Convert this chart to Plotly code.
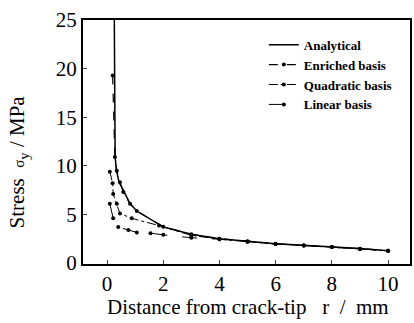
import plotly.graph_objects as go

# Data
r_analytical = [0.26, 0.27, 0.29, 0.33, 0.43, 0.58, 0.82, 1.06, 2, 3, 4, 5, 6, 7, 8, 9, 10]
s_analytical = [25.0, 19.5, 11.0, 9.6, 8.3, 7.5, 6.1, 5.35, 3.72, 2.97, 2.5, 2.25, 1.98, 1.82, 1.66, 1.5, 1.26]

r_enriched = [0.2, 0.28, 0.35, 0.46, 0.58, 0.82, 1.06, 2, 3, 4, 5, 6, 7, 8, 9, 10]
s_enriched = [19.3, 10.9, 9.5, 8.3, 7.3, 6.1, 5.35, 3.72, 2.97, 2.5, 2.25, 1.98, 1.8, 1.65, 1.48, 1.26]

r_quadratic = [0.1, 0.2, 0.22, 0.35, 0.46, 0.88, 1.85, 3, 4, 5, 6, 7, 8, 9, 10]
s_quadratic = [9.4, 8.2, 7.1, 6.1, 5.1, 4.6, 3.85, 2.85, 2.45, 2.2, 1.95, 1.8, 1.65, 1.45, 1.26]

r_linear = [0.1, 0.22, 0.4, 0.76, 1.06, 1.55, 2, 3, 4, 5, 6, 7, 8, 9, 10]
s_linear = [6.1, 4.6, 3.7, 3.4, 3.15, 3.07, 2.9, 2.6, 2.45, 2.2, 1.95, 1.8, 1.65, 1.45, 1.26]

x_ticks = [0, 2, 4, 6, 8, 10]
y_ticks = [0, 5, 10, 15, 20, 25]

x_title = "Distance from crack-tip\u00a0\u00a0\u00a0r\u00a0\u00a0/\u00a0\u00a0mm"
y_title = "Stress\u00a0\u00a0<span style='font-size:15px'>σ</span><sub>y</sub>\u00a0/\u00a0MPa"

fig = go.Figure()
fig.add_trace(go.Scatter(x=r_analytical, y=s_analytical, name="Analytical", mode="lines",
                         line=dict(color="black", width=1.5)))
fig.add_trace(go.Scatter(x=r_enriched, y=s_enriched, name="Enriched basis", mode="lines+markers",
                         line=dict(color="black", width=1.2, dash="dash"),
                         marker=dict(symbol="circle", size=4, color="black")))
fig.add_trace(go.Scatter(x=r_quadratic, y=s_quadratic, name="Quadratic basis", mode="lines+markers",
                         line=dict(color="black", width=1, dash="dashdot"),
                         marker=dict(symbol="circle", size=4, color="black")))
fig.add_trace(go.Scatter(x=r_linear, y=s_linear, name="Linear basis", mode="lines+markers",
                         line=dict(color="black", width=1, dash="longdash"),
                         marker=dict(symbol="circle", size=4, color="black")))

serif = "Liberation Serif, Times New Roman, serif"
fig.update_layout(
    width=414, height=323,
    margin=dict(l=83, r=4, t=20, b=59, autoexpand=False),
    paper_bgcolor="white", plot_bgcolor="white",
    font=dict(family=serif, color="black", size=18),
    showlegend=True,
    legend=dict(x=0.553, y=0.96, xanchor="left", yanchor="top",
                font=dict(family=serif, size=13, color="black", weight="bold"),
                bgcolor="rgba(0,0,0,0)", itemwidth=30, tracegroupgap=0),
    xaxis=dict(range=[-0.854, 10.78], tickvals=x_ticks, ticks="inside", ticklen=4,
               showline=True, linecolor="black", linewidth=2, mirror=True,
               showgrid=False, zeroline=False, automargin=False,
               tickfont=dict(family=serif, size=21)),
    yaxis=dict(range=[-0.1, 25.0], tickvals=y_ticks, ticks="inside", ticklen=4,
               showline=True, linecolor="black", linewidth=2, mirror=True,
               showgrid=False, zeroline=False, automargin=False,
               tickfont=dict(family=serif, size=21)),
    annotations=[
        dict(text=x_title, xref="paper", yref="paper", x=0.505, y=-0.178,
             xanchor="center", yanchor="middle", showarrow=False,
             font=dict(family=serif, size=21, color="black")),
        dict(text=y_title, xref="paper", yref="paper", x=-0.199, y=0.42,
             xanchor="center", yanchor="middle", textangle=-90, showarrow=False,
             font=dict(family=serif, size=21, color="black")),
    ],
)
fig.write_html("out.html", config={"displayModeBar": False},
               post_script="document.body.style.margin='0';")
